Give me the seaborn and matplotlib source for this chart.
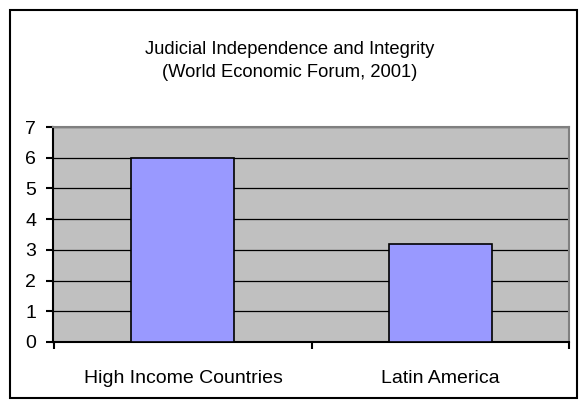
import matplotlib
matplotlib.use("Agg")
import matplotlib.pyplot as plt
from matplotlib.patches import Rectangle
import seaborn as sns
import pandas as pd

categories = ["High Income Countries", "Latin America"]
scores = [6.0, 3.2]
y_ticks = [0, 1, 2, 3, 4, 5, 6, 7]

sns.set_theme(style="white")
plt.rcParams["font.family"] = ["Liberation Sans", "DejaVu Sans"]
plt.rcParams["text.color"] = "black"
plt.rcParams["xtick.color"] = "black"
plt.rcParams["ytick.color"] = "black"

W, H = 583, 405
fig = plt.figure(figsize=(W / 100, H / 100), dpi=100)
fig.patch.set_facecolor("white")

# outer chart frame
fig.patches.append(Rectangle((10 / W, 1 - 398 / H), 567 / W, 388 / H,
                             transform=fig.transFigure, fill=False,
                             edgecolor="black", linewidth=1.5))

left, right, top, bottom = 53, 569, 127, 342
ax = fig.add_axes([left / W, 1 - bottom / H, (right - left) / W, (bottom - top) / H])

df = pd.DataFrame({"region": categories, "score": scores})
sns.barplot(data=df, x="region", y="score", ax=ax, color="#9999ff",
            saturation=1, width=0.4, edgecolor="black", linewidth=1.2, zorder=3)

ax.set_facecolor("#c0c0c0")
ax.set_ylim(0, 7)
ax.set_xlim(-0.505, 1.495)
ax.set_yticks(y_ticks)
ax.set_yticklabels([str(t) for t in y_ticks], fontsize=14, color="black")
ax.yaxis.grid(True, color="black", linewidth=0.9, zorder=0)
ax.set_axisbelow(True)

# category boundary ticks on the x axis
ax.set_xticks([-0.5, 0.5, 1.5], minor=True)
ax.set_xticks([0, 1])
ax.set_xticklabels(categories, fontsize=14, color="black")
ax.tick_params(axis="x", which="major", length=0, pad=20, bottom=True)
ax.tick_params(axis="x", which="minor", length=5, width=1.5, color="black",
               direction="out", bottom=True)
ax.tick_params(axis="y", length=5, width=1.5, color="black", direction="out",
               pad=7, left=True)
ax.set_xlabel("")
ax.set_ylabel("")

for side in ["left", "bottom"]:
    ax.spines[side].set_color("black")
    ax.spines[side].set_linewidth(1.5)
for side in ["top", "right"]:
    ax.spines[side].set_color("#808080")
    ax.spines[side].set_linewidth(1.5)

fig.text(290 / W, 1 - 61 / H,
         "Judicial Independence and Integrity\n(World Economic Forum, 2001)",
         ha="center", va="center", fontsize=13.2, linespacing=1.45, color="black")

fig.savefig("out.png", dpi=100)
